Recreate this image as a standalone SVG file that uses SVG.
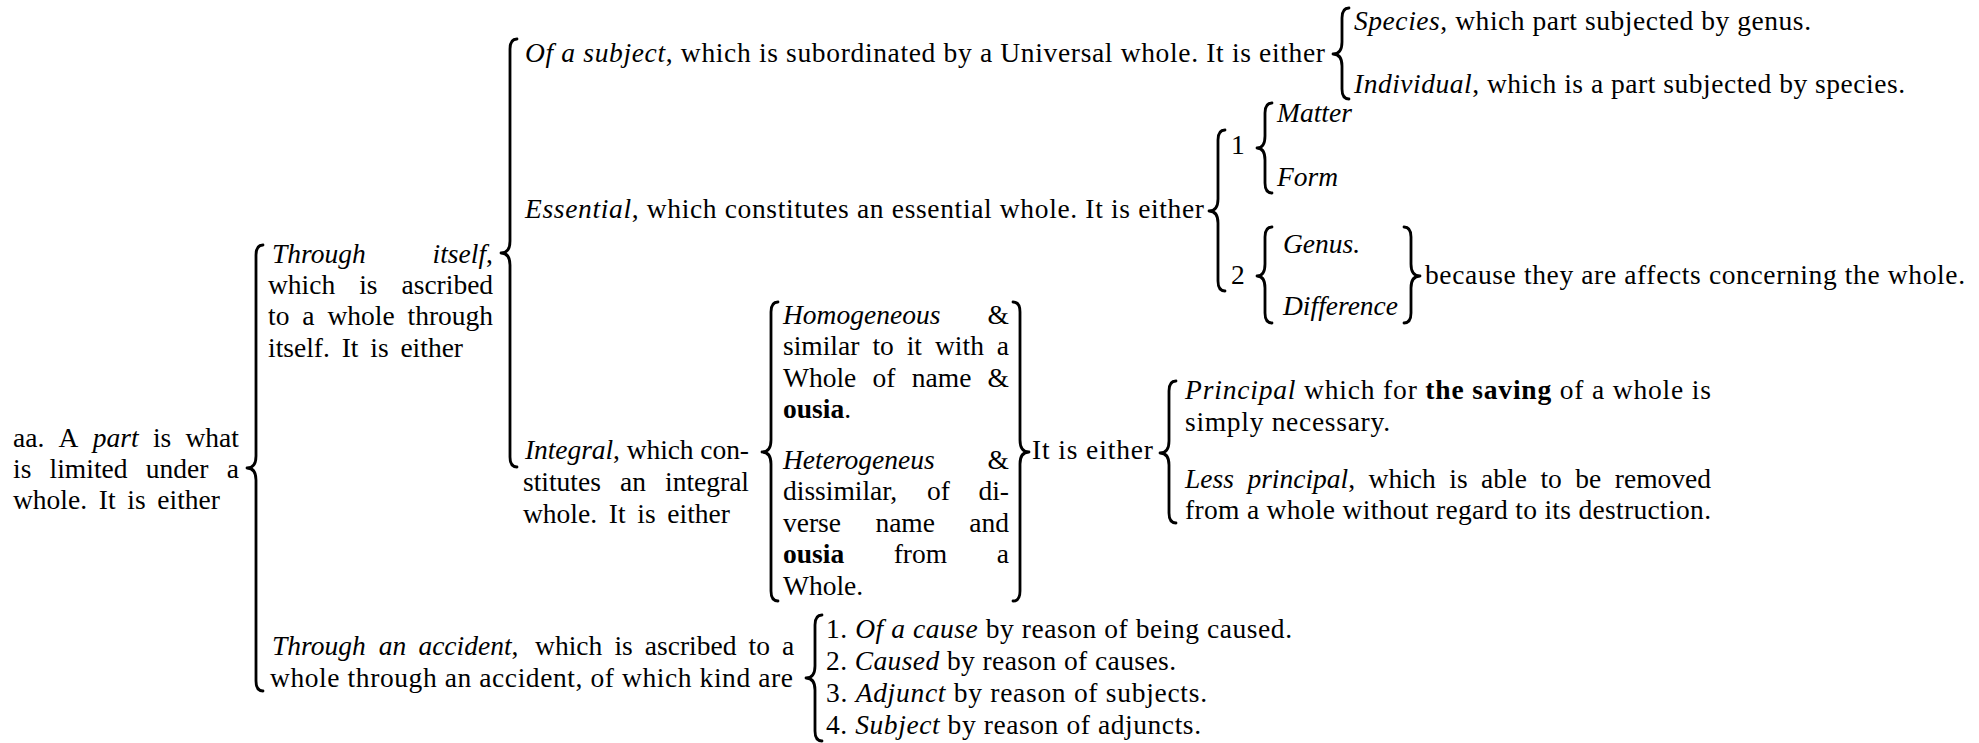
<svg xmlns="http://www.w3.org/2000/svg" width="1979" height="743" viewBox="0 0 1979 743">
<style>
.t{font-family:"Liberation Serif","Times New Roman",serif;font-size:27.5px;fill:#000}
.i{font-style:italic}
.b{font-weight:bold}
.br{fill:none;stroke:#000;stroke-width:2.8;stroke-linecap:round;stroke-linejoin:round}
</style>
<rect width="1979" height="743" fill="#fff"/>
<g id="connectors">
<path class="br" d="M263,245 Q256,245 256,255 L256,456 Q256,468 247,468 Q256,468 256,480 L256,681 Q256,691 263,691"/>
<path class="br" d="M517,39 Q510,39 510,49 L510,241 Q510,253 501,253 Q510,253 510,265 L510,457 Q510,467 517,467"/>
<path class="br" d="M1349,8 Q1342,8 1342,18 L1342,42 Q1342,54 1333,54 Q1342,54 1342,66 L1342,89 Q1342,99 1349,99"/>
<path class="br" d="M1225,130 Q1218,130 1218,140 L1218,199 Q1218,211 1209,211 Q1218,211 1218,223 L1218,281 Q1218,291 1225,291"/>
<path class="br" d="M1272,103 Q1265,103 1265,113 L1265,136 Q1265,148 1257,148 Q1265,148 1265,160 L1265,183 Q1265,193 1272,193"/>
<path class="br" d="M1272,227 Q1265,227 1265,237 L1265,264 Q1265,276 1257,276 Q1265,276 1265,288 L1265,313 Q1265,323 1272,323"/>
<path class="br" d="M1404,227 Q1411,227 1411,237 L1411,264 Q1411,276 1420,276 Q1411,276 1411,288 L1411,313 Q1411,323 1404,323"/>
<path class="br" d="M778,302 Q771,302 771,312 L771,440 Q771,452 762,452 Q771,452 771,464 L771,591 Q771,601 778,601"/>
<path class="br" d="M1013,302 Q1020,302 1020,312 L1020,440 Q1020,452 1029,452 Q1020,452 1020,464 L1020,591 Q1020,601 1013,601"/>
<path class="br" d="M1176,381 Q1169,381 1169,391 L1169,441 Q1169,453 1160,453 Q1169,453 1169,465 L1169,513 Q1169,523 1176,523"/>
<path class="br" d="M822,615 Q815,615 815,625 L815,666 Q815,678 806,678 Q815,678 815,690 L815,731 Q815,741 822,741"/>
</g>
<g id="part">
<text class="t" y="447"><tspan x="13">aa.</tspan><tspan x="58.6">A</tspan><tspan x="92.8" class="i">part</tspan><tspan x="152.9">is</tspan><tspan x="185.5">what</tspan></text>
<text class="t" y="478"><tspan x="13">is</tspan><tspan x="49.6">limited</tspan><tspan x="145.8">under</tspan><tspan x="226.7">a</tspan></text>
<text class="t" y="509"><tspan x="13">whole.</tspan><tspan x="98.8">It</tspan><tspan x="127.3">is</tspan><tspan x="157.3">either</tspan></text>
</g>
<g id="through-itself">
<text class="t" y="263"><tspan x="272" class="i">Through</tspan><tspan x="432.6" class="i">itself</tspan>,</text>
<text class="t" y="294"><tspan x="268">which</tspan><tspan x="359.2">is</tspan><tspan x="401.5">ascribed</tspan></text>
<text class="t" y="325"><tspan x="268">to</tspan><tspan x="302.3">a</tspan><tspan x="327.4">whole</tspan><tspan x="407.5">through</tspan></text>
<text class="t" y="357"><tspan x="268">itself.</tspan><tspan x="341.7">It</tspan><tspan x="370.3">is</tspan><tspan x="400.4">either</tspan></text>
</g>
<g id="of-a-subject">
<text class="t" x="525" y="62" textLength="800" lengthAdjust="spacing"><tspan class="i">Of a subject</tspan>, which is subordinated by a Universal whole. It is either</text>
</g>
<g id="species">
<text class="t" x="1354" y="30" textLength="457" lengthAdjust="spacing"><tspan class="i">Species</tspan>, which part subjected by genus.</text>
</g>
<g id="individual">
<text class="t" x="1354" y="93" textLength="551" lengthAdjust="spacing"><tspan class="i">Individual</tspan>, which is a part subjected by species.</text>
</g>
<g id="essential">
<text class="t" x="525" y="218" textLength="679" lengthAdjust="spacing"><tspan class="i">Essential</tspan>, which constitutes an essential whole. It is either</text>
</g>
<g id="one"><text class="t" x="1231" y="154">1</text></g>
<g id="matter"><text class="t i" x="1277" y="122">Matter</text></g>
<g id="form"><text class="t i" x="1277" y="186">Form</text></g>
<g id="two"><text class="t" x="1231" y="284">2</text></g>
<g id="genus"><text class="t i" x="1283" y="253">Genus.</text></g>
<g id="difference"><text class="t i" x="1283" y="315">Difference</text></g>
<g id="because">
<text class="t" x="1425" y="284" textLength="540" lengthAdjust="spacing">because they are affects concerning the whole.</text>
</g>
<g id="integral">
<text class="t" x="525" y="459" textLength="224" lengthAdjust="spacing"><tspan class="i">Integral</tspan>, which con-</text>
<text class="t" y="491"><tspan x="523">stitutes</tspan><tspan x="620">an</tspan><tspan x="665">integral</tspan></text>
<text class="t" y="523"><tspan x="523">whole.</tspan><tspan x="608.8">It</tspan><tspan x="637.3">is</tspan><tspan x="667.3">either</tspan></text>
</g>
<g id="homogeneous">
<text class="t" y="324"><tspan x="783" class="i">Homogeneous</tspan><tspan x="987.6">&amp;</tspan></text>
<text class="t" y="355"><tspan x="783">similar</tspan><tspan x="872.4">to</tspan><tspan x="906.7">it</tspan><tspan x="935">with</tspan><tspan x="996.8">a</tspan></text>
<text class="t" y="387"><tspan x="783">Whole</tspan><tspan x="872.6">of</tspan><tspan x="911.8">name</tspan><tspan x="987.6">&amp;</tspan></text>
<text class="t" x="783" y="418"><tspan class="b">ousia</tspan>.</text>
</g>
<g id="heterogeneus">
<text class="t" y="469"><tspan x="783" class="i">Heterogeneus</tspan><tspan x="987.6">&amp;</tspan></text>
<text class="t" y="500"><tspan x="783">dissimilar,</tspan><tspan x="927">of</tspan><tspan x="978.4">di-</tspan></text>
<text class="t" y="532"><tspan x="783">verse</tspan><tspan x="875.4">name</tspan><tspan x="969.3">and</tspan></text>
<text class="t" y="563"><tspan x="783" class="b">ousia</tspan><tspan x="893.7">from</tspan><tspan x="996.8">a</tspan></text>
<text class="t" x="783" y="595">Whole.</text>
</g>
<g id="it-is-either">
<text class="t" x="1032" y="459" textLength="121" lengthAdjust="spacing">It is either</text>
</g>
<g id="principal">
<text class="t" x="1185" y="399" textLength="526" lengthAdjust="spacing"><tspan class="i">Principal</tspan> which for <tspan class="b">the saving</tspan> of a whole is</text>
<text class="t" x="1185" y="431" textLength="205" lengthAdjust="spacing">simply necessary.</text>
</g>
<g id="less-principal">
<text class="t" y="488"><tspan x="1185" class="i">Less</tspan><tspan x="1247.4" class="i">principal</tspan>,<tspan x="1368.6">which</tspan><tspan x="1449.3">is</tspan><tspan x="1481.1">able</tspan><tspan x="1540.4">to</tspan><tspan x="1575.3">be</tspan><tspan x="1614.8">removed</tspan></text>
<text class="t" x="1185" y="519" textLength="526" lengthAdjust="spacing">from a whole without regard to its destruction.</text>
</g>
<g id="through-accident">
<text class="t" y="655"><tspan x="272" class="i">Through</tspan><tspan x="378.8" class="i">an</tspan><tspan x="418.4" class="i">accident</tspan>,<tspan x="535.1">which</tspan><tspan x="614.4">is</tspan><tspan x="644.8">ascribed</tspan><tspan x="748.5">to</tspan><tspan x="782">a</tspan></text>
<text class="t" x="270" y="687" textLength="523" lengthAdjust="spacing">whole through an accident, of which kind are</text>
</g>
<g id="item-1"><text class="t" x="826" y="638" textLength="466" lengthAdjust="spacing">1. <tspan class="i">Of a cause</tspan> by reason of being caused.</text></g>
<g id="item-2"><text class="t" x="826" y="670" textLength="350" lengthAdjust="spacing">2. <tspan class="i">Caused</tspan> by reason of causes.</text></g>
<g id="item-3"><text class="t" x="826" y="702" textLength="381" lengthAdjust="spacing">3. <tspan class="i">Adjunct</tspan> by reason of subjects.</text></g>
<g id="item-4"><text class="t" x="826" y="734" textLength="375" lengthAdjust="spacing">4. <tspan class="i">Subject</tspan> by reason of adjuncts.</text></g>
</svg>
